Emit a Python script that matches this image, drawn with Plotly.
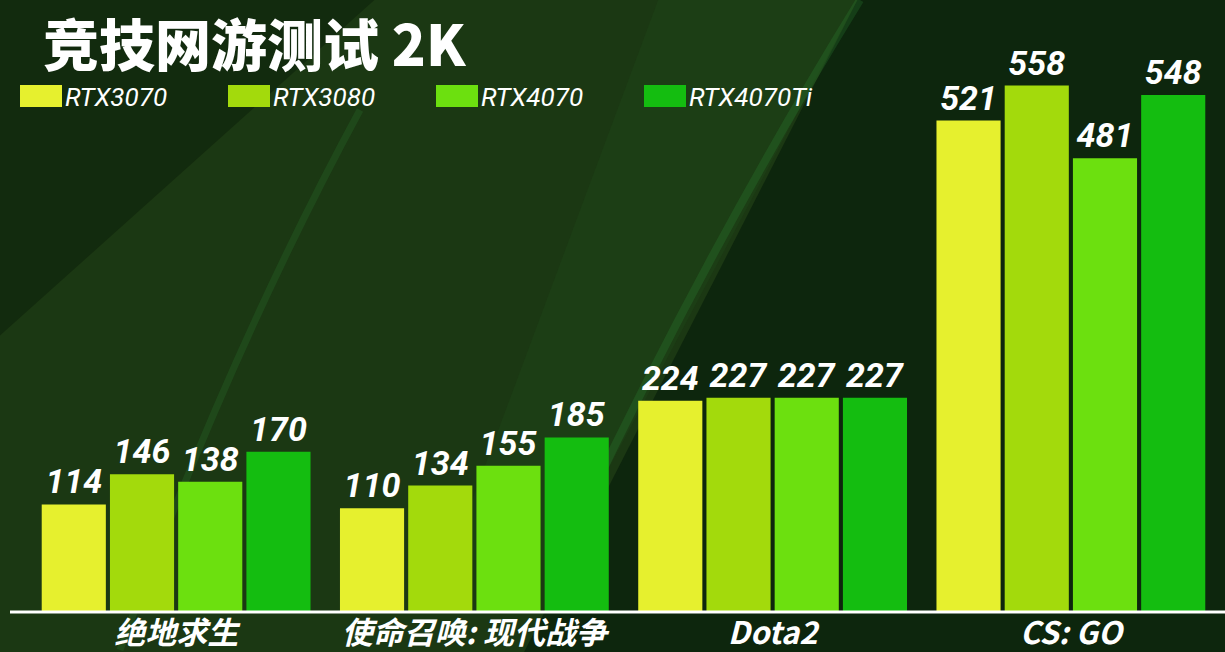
import plotly.graph_objects as go

# data
games = ["绝地求生", "使命召唤: 现代战争", "Dota2", "CS: GO"]
cards = ["RTX3070", "RTX3080", "RTX4070", "RTX4070Ti"]
rtx3070 = [114, 110, 224, 521]
rtx3080 = [146, 134, 227, 558]
rtx4070 = [138, 155, 227, 481]
rtx4070ti = [170, 185, 227, 548]
series = [rtx3070, rtx3080, rtx4070, rtx4070ti]
colors = ["#E6F02E", "#A3DA0C", "#6CE00F", "#14BD10"]

W, H = 1225, 652
L, R, T, B = 27, 1220, 46, 612


def px(x):
    # pixel x -> paper x
    return (x - L) / (R - L)


def py(y):
    # pixel y -> paper y
    return (B - y) / (B - T)


fig = go.Figure()
for name, vals, col in zip(cards, series, colors):
    fig.add_trace(go.Bar(
        x=games, y=vals, name=name,
        marker=dict(color=col, line=dict(width=0)),
        text=vals, textposition="outside", cliponaxis=False,
        constraintext="none",
        textfont=dict(family="Roboto", size=34, color="white", weight=700, style="italic"),
    ))

shapes = []
# background decoration: dark right side, dark top-left corner, soft streaks
shapes.append(dict(type="path", xref="paper", yref="paper", layer="below",
                   path=f"M{px(860)},{py(-5)} L{px(1230)},{py(-5)} L{px(1230)},{py(660)} L{px(520)},{py(660)} Z",
                   fillcolor="rgba(0,20,8,0.5)", line=dict(width=0)))
shapes.append(dict(type="path", xref="paper", yref="paper", layer="below",
                   path=f"M{px(-5)},{py(-5)} L{px(380)},{py(-5)} L{px(-5)},{py(340)} Z",
                   fillcolor="rgba(0,14,4,0.3)", line=dict(width=0)))
shapes.append(dict(type="path", xref="paper", yref="paper", layer="below",
                   path=f"M{px(660)},{py(-5)} L{px(860)},{py(-5)} L{px(560)},{py(560)} L{px(450)},{py(560)} Z",
                   fillcolor="rgba(40,110,40,0.12)", line=dict(width=0)))
shapes.append(dict(type="path", xref="paper", yref="paper", layer="below",
                   path=f"M{px(860)},{py(0)} Q{px(700)},{py(260)} {px(560)},{py(560)}",
                   line=dict(color="rgba(50,150,60,0.22)", width=8)))
shapes.append(dict(type="path", xref="paper", yref="paper", layer="below",
                   path=f"M{px(360)},{py(110)} Q{px(230)},{py(350)} {px(120)},{py(650)}",
                   line=dict(color="rgba(50,150,60,0.18)", width=7)))
# baseline
shapes.append(dict(type="line", xref="paper", yref="paper",
                   x0=px(10), x1=px(1225), y0=py(612), y1=py(612),
                   line=dict(color="white", width=3)))

annotations = [dict(
    text="竞技网游测试 2K", xref="paper", yref="paper",
    x=px(42), y=py(0), xanchor="left", yanchor="top", showarrow=False,
    borderpad=0,
    font=dict(family="Noto Sans CJK SC", size=56, color="white", weight=900),
)]

# legend drawn by hand so the swatches match the big squares
legend_x = [20, 228, 436, 644]
for name, col, lx in zip(cards, colors, legend_x):
    shapes.append(dict(type="rect", xref="paper", yref="paper",
                       x0=px(lx), x1=px(lx + 42), y0=py(107), y1=py(85),
                       fillcolor=col, line=dict(width=0)))
    annotations.append(dict(
        text=name, xref="paper", yref="paper", x=px(lx + 44), y=py(97),
        xanchor="left", yanchor="middle", showarrow=False, borderpad=0,
        font=dict(family="Roboto", size=26, color="white", style="italic"),
    ))

fig.update_layout(
    width=W, height=H,
    margin=dict(l=L, r=W - R, t=T, b=H - B, pad=0),
    paper_bgcolor="#1b3813",
    plot_bgcolor="rgba(0,0,0,0)",
    barmode="group", bargap=0.085, bargroupgap=0.06,
    showlegend=False,
    shapes=shapes, annotations=annotations,
    xaxis=dict(showgrid=False, zeroline=False, showline=False, ticks="",
               automargin=False,
               tickfont=dict(family="Noto Sans CJK SC", size=31, color="white", weight=700, style="italic")),
    yaxis=dict(range=[0, 600], visible=False, showgrid=False, zeroline=False),
)

fig.write_html("out.html", config={"displayModeBar": False},
               post_script="document.body.style.margin='0';document.body.style.overflow='hidden';")
